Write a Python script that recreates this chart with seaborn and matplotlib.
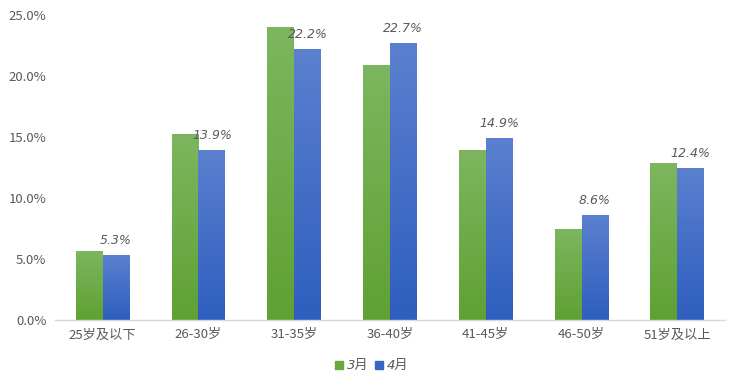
import numpy as np
import pandas as pd
import matplotlib
matplotlib.use('Agg')
import matplotlib.pyplot as plt
from matplotlib.colors import LinearSegmentedColormap
from matplotlib.lines import Line2D
import seaborn as sns

categories = ['25岁及以下', '26-30岁', '31-35岁', '36-40岁', '41-45岁', '46-50岁', '51岁及以上']
march = [5.6, 15.2, 24.0, 20.9, 13.9, 7.4, 12.8]
april = [5.3, 13.9, 22.2, 22.7, 14.9, 8.6, 12.4]
months = ['3月', '4月']

df = pd.DataFrame({
    'age': categories * 2,
    'month': [months[0]] * len(categories) + [months[1]] * len(categories),
    'share': march + april,
})

sns.set_theme(style='white')
plt.rcParams['font.family'] = ['Noto Sans CJK SC', 'DejaVu Sans']

fig = plt.figure(figsize=(7.4, 3.87), dpi=100)
ax = fig.add_axes([0.074, 0.173, 0.906, 0.788])

palette = {'3月': '#69a83d', '4月': '#3765c4'}
sns.barplot(data=df, x='age', y='share', hue='month', palette=palette,
            width=0.56, gap=0, ax=ax, legend=False)

# gradient fill (lighter at the top)
grads = {
    '3月': LinearSegmentedColormap.from_list('g', ['#5fa132', '#7db65f']),
    '4月': LinearSegmentedColormap.from_list('b', ['#2e5ebe', '#5b80cf']),
}
grad = np.linspace(0, 1, 256).reshape(-1, 1)
n = len(categories)
for i, patch in enumerate(ax.patches[:2 * n]):
    m = months[i // n]
    x0, y0 = patch.get_x(), patch.get_y()
    w, h = patch.get_width(), patch.get_height()
    patch.set_facecolor('none')
    patch.set_edgecolor('none')
    ax.imshow(grad, cmap=grads[m], extent=(x0, x0 + w, y0, y0 + h),
              origin='lower', aspect='auto', zorder=2)

ax.set_xlim(-0.5, n - 0.5)
ax.set_ylim(0, 25)

# labels on April bars
for i, v in enumerate(april):
    ax.text(i + 0.14, v + 0.7, f'{v:.1f}%', ha='center', va='bottom',
            fontsize=9, style='italic', color='#595959',
            family=['DejaVu Sans'])

ax.set_yticks(np.arange(0, 26, 5))
ax.set_yticklabels([f'{t:.1f}%' for t in np.arange(0, 26, 5)])
ax.tick_params(axis='both', labelsize=9.5, colors='#595959', length=0, pad=6)
ax.set_xlabel('')
ax.set_ylabel('')
for s in ['top', 'right', 'left']:
    ax.spines[s].set_visible(False)
ax.spines['bottom'].set_color('#d9d9d9')
ax.spines['bottom'].set_linewidth(1)

handles = [Line2D([], [], marker='s', linestyle='none', markersize=6,
                  color=palette[m]) for m in months]
leg = fig.legend(handles, months, loc='center', bbox_to_anchor=(0.50, 0.055),
                 ncol=2, frameon=False, handletextpad=0.0, columnspacing=0.2,
                 handlelength=1.2,
                 prop={'size': 9.5, 'style': 'italic',
                       'family': ['DejaVu Sans', 'Noto Sans CJK SC']})
for t in leg.get_texts():
    t.set_color('#595959')

fig.savefig('out.png', dpi=100)
